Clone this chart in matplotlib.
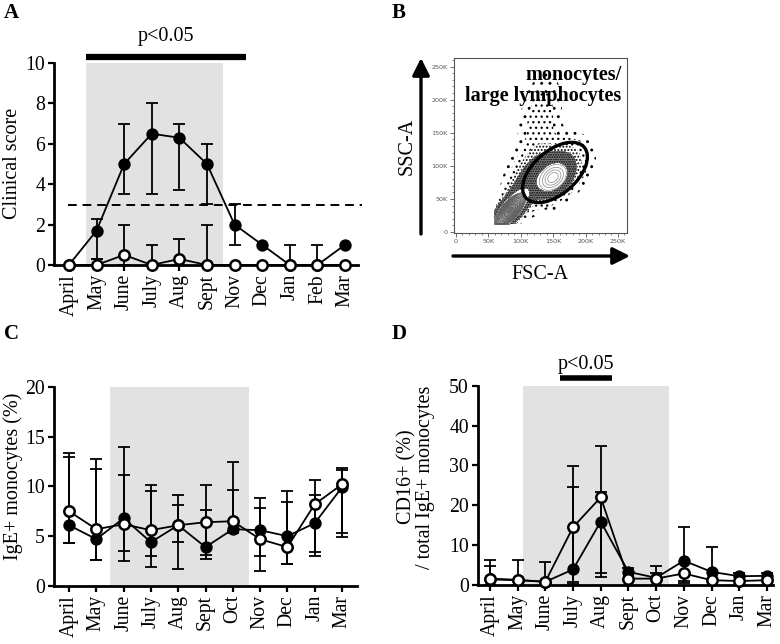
import matplotlib
matplotlib.use('Agg')
import matplotlib.pyplot as plt
import numpy as np
from matplotlib.patches import Ellipse, Rectangle

plt.rcParams['font.family'] = ['Liberation Serif', 'DejaVu Serif']
plt.rcParams['hatch.linewidth'] = 0.9
plt.rcParams['hatch.color'] = 'black'

# ---------------- data ----------------
months_A = ['April', 'May', 'June', 'July', 'Aug', 'Sept', 'Nov', 'Dec', 'Jan', 'Feb', 'Mar']
A_filled = [0, 1.7, 5.0, 6.5, 6.3, 5.0, 2.0, 1.0, 0, 0, 1.0]
A_filled_lo = [0, 0.3, 3.5, 3.5, 3.7, 3.0, 1.0, 1.0, 0, 0, 1.0]
A_filled_hi = [0, 2.3, 7.0, 8.0, 7.0, 6.0, 3.0, 1.0, 1.0, 1.0, 1.0]
A_open = [0, 0, 0.5, 0, 0.3, 0, 0, 0, 0, 0, 0]
A_open_lo = [0, 0, 0, 0, 0, 0, 0, 0, 0, 0, 0]
A_open_hi = [0, 0.3, 2.0, 1.0, 1.3, 2.0, 0, 0, 0, 0, 0]
A_threshold = 2.95

months_CD = ['April', 'May', 'June', 'July', 'Aug', 'Sept', 'Oct', 'Nov', 'Dec', 'Jan', 'Mar']
C_filled = [6.1, 4.7, 6.8, 4.4, 6.1, 3.9, 5.7, 5.6, 5.0, 6.3, 9.9]
C_filled_lo = [4.3, 2.6, 2.5, 1.9, 1.7, 2.7, 5.3, 3.0, 2.2, 3.0, 4.9]
C_filled_hi = [12.9, 11.7, 13.9, 9.5, 9.1, 7.6, 9.6, 8.8, 9.5, 9.1, 11.6]
C_open = [7.5, 5.7, 6.2, 5.6, 6.1, 6.4, 6.5, 4.7, 3.9, 8.2, 10.2]
C_open_lo = [4.3, 2.6, 3.5, 3.0, 4.4, 3.1, 5.5, 1.5, 2.2, 3.4, 5.3]
C_open_hi = [13.3, 12.7, 11.1, 10.1, 8.1, 10.1, 12.4, 7.8, 8.4, 10.6, 11.8]

D_filled = [1.6, 1.3, 0.8, 3.9, 15.9, 3.3, 1.8, 6.1, 3.3, 2.2, 2.3]
D_filled_lo = [0, 0, 0, 0.8, 3.0, 3.3, 1.8, 0.5, 3.3, 2.2, 2.3]
D_filled_hi = [4.7, 1.3, 0.8, 24.7, 23.3, 4.3, 3.0, 14.5, 9.5, 2.9, 3.0]
D_open = [1.4, 1.2, 0.8, 14.5, 22.0, 1.6, 1.6, 2.9, 1.2, 1.0, 1.2]
D_open_lo = [0, 0, 0, 0.3, 2.0, 1.6, 1.6, 1.0, 1.2, 1.0, 1.2]
D_open_hi = [6.2, 6.2, 5.8, 29.9, 34.9, 1.6, 4.7, 2.9, 1.2, 1.0, 1.2]

# flow cytometry panel (values in K units): populations
B_ticks = [0, 50, 100, 150, 200, 250]
B_tick_labels = ['0', '50K', '100K', '150K', '200K', '250K']
B_pop = ['lymph', 'lymph halo', 'mono core', 'mono halo', 'spray', 'neck']
B_cx = [84, 92, 150, 148, 130, 112]
B_cy = [33, 46, 82, 88, 168, 95]
B_sa = [16, 28, 14, 34, 46, 26]
B_sb = [6.5, 12, 10, 21, 20, 18]
B_ang = [48, 55, 40, 40, 80, 50]
B_w = [1.0, 0.06, 0.3, 0.06, 0.014, 0.012]
B_gate = (153, 90, 118, 66, 40)  # cx, cy, width, height, angle

W, H = 780, 644
fig = plt.figure(figsize=(W / 100, H / 100), dpi=100)


def rect(l, t, r, b):
    return [l / W, 1 - b / H, (r - l) / W, (b - t) / H]


FS = 14.5
TFS = 14.2


def style(ax, months, xlim, ylim, yticks):
    ax.set_xlim(*xlim)
    ax.set_ylim(*ylim)
    for s in ['top', 'right']:
        ax.spines[s].set_visible(False)
    for s in ['left', 'bottom']:
        ax.spines[s].set_linewidth(2.0)
    ax.spines['left'].set_bounds(ylim[0], yticks[-1])
    ax.set_xticks(range(len(months)))
    ax.set_xticklabels(months)
    ax.set_yticks(yticks)
    ax.tick_params(axis='both', direction='out', length=4.5, width=1.6, labelsize=TFS, pad=2)
    ax.tick_params(axis='x', labelrotation=90)


def ebars(ax, y, lo, hi, z):
    x = np.arange(len(y))
    y = np.asarray(y, float); lo = np.asarray(lo, float); hi = np.asarray(hi, float)
    ax.vlines(x, lo, hi, colors='k', lw=1.3, zorder=z)
    m = hi > y
    ax.plot(x[m], hi[m], ls='none', marker='_', ms=9, mew=1.3, color='k', zorder=z)
    m = lo < y
    ax.plot(x[m], lo[m], ls='none', marker='_', ms=9, mew=1.3, color='k', zorder=z)


def series(ax, filled, flo, fhi, opn, olo, ohi):
    x = np.arange(len(filled))
    ebars(ax, filled, flo, fhi, 3)
    ax.plot(x, filled, '-o', color='k', lw=1.3, ms=7.5, mfc='k', mec='k', mew=1.4,
            zorder=4, clip_on=False)
    ebars(ax, opn, olo, ohi, 5)
    ax.plot(x, opn, '-o', color='k', lw=1.3, ms=7.5, mfc='white', mec='k', mew=1.8,
            zorder=6, clip_on=False)


SHADE = '#e2e2e2'

# ---------------- Panel A ----------------
axA = fig.add_axes(rect(54, 63, 358, 265))
style(axA, months_A, (-0.54, 10.47), (0, 10), [0, 2, 4, 6, 8, 10])
axA.add_patch(Rectangle((0.62, 0), 5.58 - 0.62, 10, facecolor=SHADE, edgecolor='none', zorder=0))
axA.plot([-0.05, 10.6], [A_threshold, A_threshold], ls=(0, (4.5, 3)), color='k', lw=1.4,
         zorder=2, clip_on=False)
series(axA, A_filled, A_filled_lo, A_filled_hi, A_open, A_open_lo, A_open_hi)
axA.plot([0.62, 6.41], [10.3, 10.3], color='k', lw=4.5, solid_capstyle='butt', clip_on=False)
axA.text(3.5, 10.85, 'p<0.05', ha='center', va='bottom', fontsize=FS)
fig.text(13 / W, 1 - 163 / H, 'Clinical score', rotation=90, ha='center', va='center', fontsize=FS)

# ---------------- Panel C ----------------
axC = fig.add_axes(rect(54, 386.7, 357, 586))
style(axC, months_CD, (-0.55, 10.55), (0, 20), [0, 5, 10, 15, 20])
axC.add_patch(Rectangle((1.5, 0), 6.6 - 1.5, 20, facecolor=SHADE, edgecolor='none', zorder=0))
series(axC, C_filled, C_filled_lo, C_filled_hi, C_open, C_open_lo, C_open_hi)
fig.text(13 / W, 1 - 476 / H, 'IgE+ monocytes (%)', rotation=90, ha='center', va='center', fontsize=FS)

# ---------------- Panel D ----------------
axD = fig.add_axes(rect(478, 385.7, 773, 585))
style(axD, months_CD, (-0.43, 10.22), (0, 50), [0, 10, 20, 30, 40, 50])
axD.add_patch(Rectangle((1.2, 0), 6.46 - 1.2, 50, facecolor=SHADE, edgecolor='none', zorder=0))
series(axD, D_filled, D_filled_lo, D_filled_hi, D_open, D_open_lo, D_open_hi)
axD.plot([2.54, 4.42], [51.9, 51.9], color='k', lw=4.0, solid_capstyle='butt', clip_on=False)
axD.text(3.48, 53.0, 'p<0.05', ha='center', va='bottom', fontsize=FS)
fig.text(416 / W, 1 - 477 / H, 'CD16+ (%)\n/ total IgE+ monocytes', rotation=90, ha='center',
         va='center', multialignment='center', fontsize=FS, linespacing=1.0)

# ---------------- Panel B ----------------
axB = fig.add_axes(rect(454, 58, 627, 233))
axB.set_xlim(-2.6, 263.9)
axB.set_ylim(-1.5, 263)
for s in axB.spines.values():
    s.set_linewidth(0.8)
    s.set_color('#555555')
axB.set_xticks(B_ticks)
axB.set_xticklabels(B_tick_labels)
axB.set_yticks(B_ticks)
axB.set_yticklabels(B_tick_labels)
axB.set_xticks(np.arange(0, 261, 10), minor=True)
axB.set_yticks(np.arange(0, 261, 10), minor=True)
axB.tick_params(which='major', direction='out', length=3, width=0.6, color='#555555',
                labelsize=4.6, labelcolor='#555555', pad=1.5)
axB.tick_params(which='minor', direction='out', length=1.6, width=0.5, color='#555555')
for lab in axB.get_xticklabels() + axB.get_yticklabels():
    lab.set_family('DejaVu Sans')

gx = np.linspace(0, 262, 420)
gy = np.linspace(0, 262, 420)
X, Y = np.meshgrid(gx, gy)
comps = []
for cx, cy, sa, sb, ang, w in zip(B_cx, B_cy, B_sa, B_sb, B_ang, B_w):
    t = np.deg2rad(ang)
    u = (X - cx) * np.cos(t) + (Y - cy) * np.sin(t)
    v = -(X - cx) * np.sin(t) + (Y - cy) * np.cos(t)
    comps.append(w * np.exp(-0.5 * ((u / sa) ** 2 + (v / sb) ** 2)))
mask = (X < 60) | (Y < 12)
Dn = np.sum(comps, axis=0)
Dn[mask] = 0
Dl = comps[0].copy()
Dl[mask] = 0

axB.contourf(X, Y, Dn, levels=[0.004, 0.009, 0.018, 0.03, 0.1],
             colors=['none', 'none', 'none', '#808080'],
             hatches=['..', '...', '.....', '.......'])
lym = np.geomspace(0.12, 0.95, 10)
axB.contourf(X, Y, Dl, levels=list(lym) + [2], colors=plt.cm.Greys(np.linspace(0.15, 0.6, 10)))
axB.contour(X, Y, Dl, levels=lym, colors=['#5a5a5a'], linewidths=0.6)
Dm = comps[2] + comps[3]
axB.contour(X, Y, Dm, levels=[0.12, 0.18, 0.24, 0.3], colors=['#9a9a9a'], linewidths=0.6)
cx, cy, gw, gh, ga = B_gate
axB.add_patch(Ellipse((cx, cy), gw, gh, angle=ga, fill=False, lw=2.4, color='k', zorder=5))
axB.text(255, 252, 'monocytes/\nlarge lymphocytes', ha='right', va='top', fontsize=14.5,
         fontweight='bold', linespacing=1.05, zorder=6)

axB.annotate('', xy=(421 / W, 1 - 58 / H), xytext=(421 / W, 1 - 234 / H),
             xycoords='figure fraction', textcoords='figure fraction',
             arrowprops=dict(arrowstyle='-|>', lw=2.4, color='k', mutation_scale=26, shrinkA=0, shrinkB=0))
axB.annotate('', xy=(630 / W, 1 - 256 / H), xytext=(453 / W, 1 - 256 / H),
             xycoords='figure fraction', textcoords='figure fraction',
             arrowprops=dict(arrowstyle='-|>', lw=2.4, color='k', mutation_scale=26, shrinkA=0, shrinkB=0))
fig.text(407 / W, 1 - 146 / H, 'SSC-A', rotation=90, ha='center', va='center', fontsize=FS)
fig.text(540 / W, 1 - 274 / H, 'FSC-A', ha='center', va='center', fontsize=FS)

# panel letters
for lx, ly, L in [(4, 3, 'A'), (392, 3, 'B'), (4, 324, 'C'), (392, 324, 'D')]:
    fig.text(lx / W, 1 - ly / H, L, ha='left', va='top', fontsize=15, fontweight='bold')

fig.savefig('out.png', dpi=100)
